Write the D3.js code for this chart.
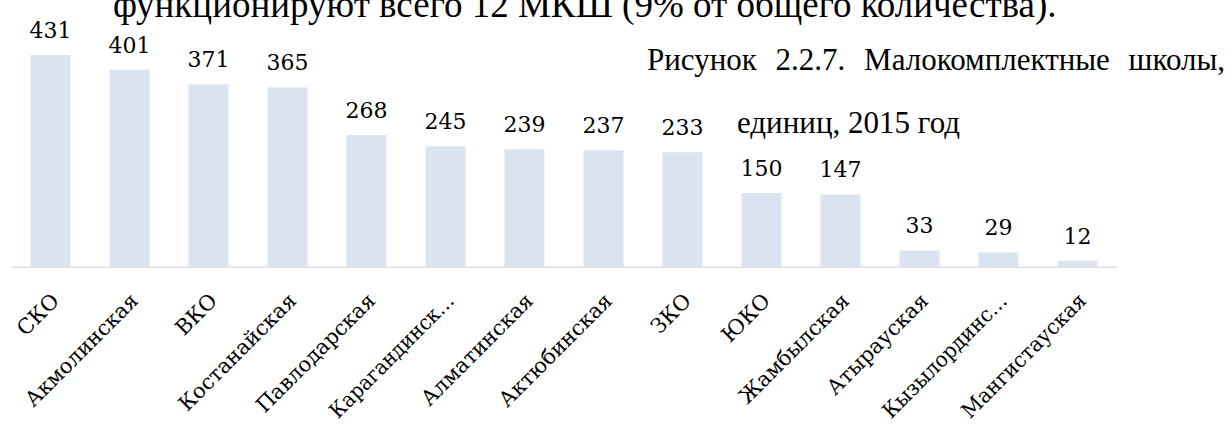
<!DOCTYPE html>
<html>
<head>
<meta charset="utf-8">
<script src="https://cdn.jsdelivr.net/npm/d3@7"></script>
<style>
  html, body { margin: 0; padding: 0; background: #fff; }
  svg { display: block; }
</style>
</head>
<body>
<div id="chart"></div>
<script>
const categories = ["СКО", "Акмолинская", "ВКО", "Костанайская", "Павлодарская", "Карагандинск…", "Алматинская", "Актюбинская", "ЗКО", "ЮКО", "Жамбылская", "Атырауская", "Кызылординс…", "Мангистауская"];
const values = [431, 401, 371, 365, 268, 245, 239, 237, 233, 150, 147, 33, 29, 12];
const topText = "функционируют всего 12 МКШ (9% от общего количества).";
const captionLines = ["Рисунок 2.2.7. Малокомплектные школы,", "единиц, 2015 год"];

const W = 1232, H = 429;
const svg = d3.select("#chart").append("svg").attr("width", W).attr("height", H);

const x = d3.scaleBand().domain(categories).range([11, 1117]).paddingInner(0.4937).paddingOuter(0.2468);
const y = d3.scaleLinear().domain([0, 500]).range([266.7, 21.1]);

// bars
svg.append("g").selectAll("rect").data(values).join("rect")
  .attr("x", (d, i) => x(categories[i]))
  .attr("y", d => y(d))
  .attr("width", x.bandwidth())
  .attr("height", d => y(0) - y(d))
  .attr("fill", "#dae3f0");

// baseline axis
const axis = d3.axisBottom(x).tickSize(0).tickFormat("");
const gx = svg.append("g").attr("transform", `translate(0,${y(0)})`).call(axis);
gx.select(".domain").attr("stroke", "#d9d9d9").attr("stroke-width", 1.3);

// category labels (rotated -45°)
const maxLabelLen = 166;
svg.append("g").selectAll("text").data(categories).join("text")
  .attr("transform", d => `translate(${x(d) + x.bandwidth() / 2 + 10},302) rotate(-45)`)
  .attr("text-anchor", "end")
  .attr("font-family", "DejaVu Serif")
  .attr("font-size", 21)
  .attr("fill", "#000")
  .text(d => d)
  .each(function () {
    const len = this.getComputedTextLength();
    if (len > maxLabelLen) {
      d3.select(this).attr("textLength", maxLabelLen).attr("lengthAdjust", "spacingAndGlyphs");
    }
  });

// value labels
svg.append("g").selectAll("text").data(values).join("text")
  .attr("x", (d, i) => x(categories[i]) + x.bandwidth() / 2)
  .attr("y", d => y(d) - 17)
  .attr("text-anchor", "middle")
  .attr("font-family", "DejaVu Serif")
  .attr("font-size", 22)
  .attr("fill", "#000")
  .text(d => d);

// document text
svg.append("text")
  .attr("x", 113).attr("y", 17)
  .attr("font-family", "Liberation Serif")
  .attr("font-size", 37)
  .attr("fill", "#000")
  .text(topText);

svg.append("text")
  .attr("x", 647).attr("y", 70)
  .attr("font-family", "Liberation Serif")
  .attr("font-size", 31)
  .attr("word-spacing", 11)
  .attr("fill", "#000")
  .text(captionLines[0]);

svg.append("text")
  .attr("x", 737).attr("y", 133)
  .attr("font-family", "Liberation Serif")
  .attr("font-size", 31)
  .attr("fill", "#000")
  .text(captionLines[1]);
</script>
</body>
</html>
